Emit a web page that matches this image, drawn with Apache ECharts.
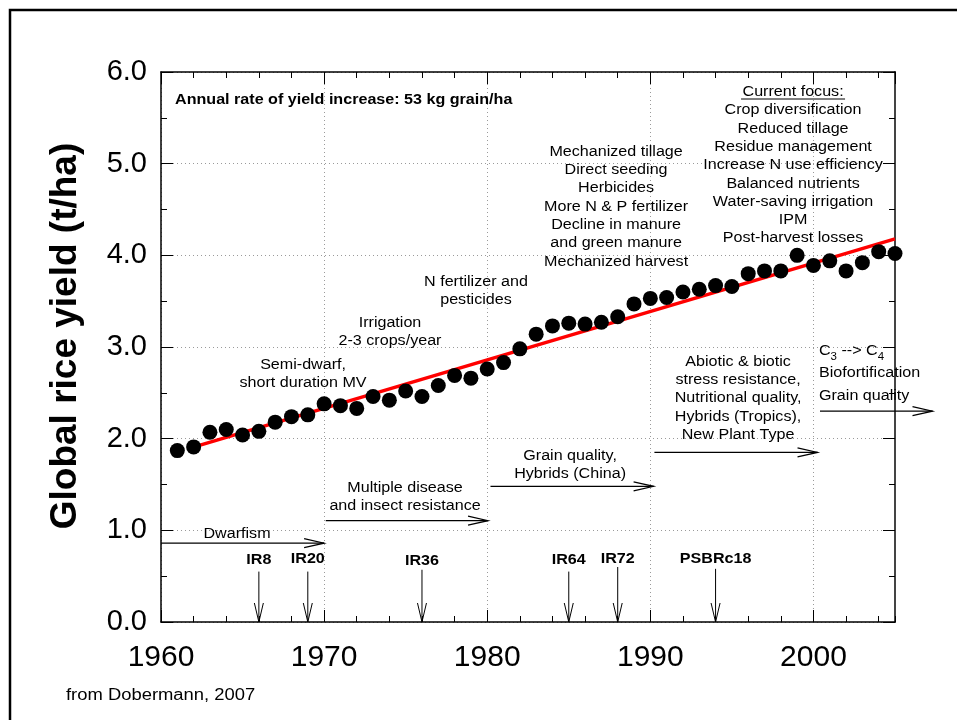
<!DOCTYPE html>
<html><head><meta charset="utf-8">
<script src="https://cdn.jsdelivr.net/npm/echarts@6/dist/echarts.min.js"></script>
<style>html,body{margin:0;padding:0;background:#fff}#c{width:957px;height:720px}</style>
</head><body><div id="c"></div>
<script>
// ---- data ----
const years = [1961,1962,1963,1964,1965,1966,1967,1968,1969,1970,1971,1972,1973,1974,1975,1976,1977,1978,1979,1980,1981,1982,1983,1984,1985,1986,1987,1988,1989,1990,1991,1992,1993,1994,1995,1996,1997,1998,1999,2000,2001,2002,2003,2004,2005];
const yields = [1.87,1.91,2.07,2.10,2.04,2.08,2.18,2.24,2.26,2.38,2.36,2.33,2.46,2.42,2.52,2.46,2.58,2.69,2.66,2.76,2.83,2.98,3.14,3.23,3.26,3.25,3.27,3.33,3.47,3.53,3.54,3.60,3.63,3.67,3.66,3.80,3.83,3.83,4.00,3.89,3.94,3.83,3.92,4.04,4.02];
const trendYears = [1962.4, 2005];
const trendValues = [1.93, 4.18];
const yTickLabels = ['0.0','1.0','2.0','3.0','4.0','5.0','6.0'];

const varietyNames = ['IR8','IR20','IR36','IR64','IR72','PSBRc18'];
const varietyYears = [1966,1969,1976,1985,1988,1994];
const varietyArrowTop = [0.55,0.55,0.57,0.55,0.60,0.58];
const varietyLabelY = [0.68,0.69,0.66,0.68,0.69,0.69];

const phaseStart = [1960, 1970.1, 1980.2, 1990.25, 2000.4];
const phaseEnd   = [1970, 1980.05, 1990.2, 2000.25, 2007.3];
const phaseLevel = [0.86, 1.105, 1.48, 1.85, 2.30];

const noteTexts = [
  'Current focus:\nCrop diversification\nReduced tillage\nResidue management\nIncrease N use efficiency\nBalanced nutrients\nWater-saving irrigation\nIPM\nPost-harvest losses',
  'Mechanized tillage\nDirect seeding\nHerbicides\nMore N & P fertilizer\nDecline in manure\nand green manure\nMechanized harvest',
  'N fertilizer and\npesticides',
  'Irrigation\n2-3 crops/year',
  'Semi-dwarf,\nshort duration MV',
  'Dwarfism',
  'Multiple disease\nand insect resistance',
  'Grain quality,\nHybrids (China)',
  'Abiotic & biotic\nstress resistance,\nNutritional quality,\nHybrids (Tropics),\nNew Plant Type'
];
const noteYears  = [1998.75, 1987.9, 1979.31, 1974.04, 1968.71, 1964.66, 1974.96, 1985.08, 1995.38];
const noteValues = [5.88, 5.227, 3.81, 3.36, 2.90, 1.06, 1.558, 1.91, 2.936];

const futureLines = [['C','3',' --> C','4'], ['Biofortification'], ['Grain quality']];
const futureYear = 2000.34, futureValue = 3.08;

const headline = 'Annual rate of yield increase: 53 kg grain/ha';
const headlineYear = 1960.86, headlineValue = 5.79;

const yTitle = 'Global rice yield (t/ha)';
const sourceNote = 'from Dobermann, 2007';

// ---- chart ----
const FONT = "'Liberation Sans', Arial, Helvetica, sans-serif";
const SX = 1.15;
const chart = echarts.init(document.getElementById('c'), null, {renderer: 'canvas'});

const gridRect = {left: 161, right: 62, top: 72, bottom: 98};
const blackTick = {color: '#000', width: 1};

function majorX(pos, labels) {
  return {
    type: 'value', gridIndex: 0, position: pos, min: 1960, max: 2005, interval: 10,
    axisLine: {show: true, onZero: false, lineStyle: {color: '#000', width: 1.5}},
    axisTick: {show: true, inside: true, length: 12, lineStyle: blackTick},
    minorTick: {show: false},
    axisLabel: labels ? {show: true, showMaxLabel: false, fontSize: 30, fontFamily: FONT, color: '#000', margin: 21,
      formatter: v => String(v)} : {show: false},
    splitLine: {show: labels, lineStyle: {type: [1, 3], color: '#9a9a9a', width: 1}}
  };
}
function minorX(pos) {
  return {
    type: 'value', gridIndex: 1, position: pos, min: 1960, max: 2005, interval: 2,
    axisLine: {show: false}, axisTick: {show: true, inside: true, length: 6, lineStyle: blackTick},
    axisLabel: {show: false}, splitLine: {show: false}
  };
}
function yAx(pos, labels, grid) {
  return {
    type: 'value', gridIndex: grid, position: pos, min: 0, max: 6, interval: 1,
    show: grid === 0,
    axisLine: {show: true, onZero: false, lineStyle: {color: pos === 'right' ? '#444' : '#000', width: pos === 'right' ? 2 : 1.5}},
    axisTick: {show: true, inside: true, length: 12, lineStyle: blackTick},
    minorTick: {show: true, splitNumber: 2, length: 6, lineStyle: blackTick},
    axisLabel: labels ? {show: true, fontSize: 29, fontFamily: FONT, color: '#000', margin: 14,
      formatter: v => yTickLabels[Math.round(v)]} : {show: false},
    splitLine: {show: labels, lineStyle: {type: [1, 3], color: '#9a9a9a', width: 1}}
  };
}

const option = {
  animation: false,
  backgroundColor: '#fff',
  grid: [Object.assign({}, gridRect), Object.assign({}, gridRect)],
  xAxis: [majorX('bottom', true), majorX('top', false), minorX('bottom'), minorX('top')],
  yAxis: [yAx('left', true, 0), yAx('right', false, 0), yAx('left', false, 1)],
  graphic: [
    {type: 'rect', shape: {x: 10, y: 10, width: 1000, height: 1000}, style: {fill: null, stroke: '#000', lineWidth: 2.5}, silent: true},
    {type: 'text', x: 66, y: 336, rotation: Math.PI / 2, style: {text: yTitle, font: 'bold 37px ' + FONT, fill: '#000', align: 'center', verticalAlign: 'middle'}},
    {type: 'text', x: 66, y: 696, scaleX: SX, style: {text: sourceNote, font: '16px ' + FONT, fill: '#000', align: 'left', verticalAlign: 'middle'}}
  ],
  series: [
    {
      type: 'line', xAxisIndex: 0, yAxisIndex: 0, data: trendYears.map((x, i) => [x, trendValues[i]]),
      symbol: 'none', lineStyle: {color: '#ff0000', width: 3.5}, z: 2, silent: true
    },
    {
      type: 'scatter', xAxisIndex: 0, yAxisIndex: 0, data: years.map((x, i) => [x, yields[i]]),
      symbol: 'circle', symbolSize: 15, itemStyle: {color: '#000', opacity: 1}, z: 3, silent: true
    },
    {
      // phase arrows
      type: 'custom', xAxisIndex: 0, yAxisIndex: 0, clip: false, silent: true, z: 4,
      data: phaseStart.map((s, i) => [s, phaseEnd[i], phaseLevel[i]]),
      encode: {x: [0, 1], y: 2},
      renderItem(params, api) {
        const a = api.coord([api.value(0), api.value(2)]);
        const b = api.coord([api.value(1), api.value(2)]);
        return {type: 'group', children: [
          {type: 'line', shape: {x1: a[0], y1: a[1], x2: b[0], y2: b[1]}, style: {stroke: '#000', lineWidth: 1.2}},
          {type: 'polyline', shape: {points: [[b[0] - 20, b[1] - 4.5], [b[0], b[1]], [b[0] - 20, b[1] + 4.5]]}, style: {stroke: '#000', fill: null, lineWidth: 1.2}}
        ]};
      }
    },
    {
      // variety release arrows
      type: 'custom', xAxisIndex: 0, yAxisIndex: 0, clip: false, silent: true, z: 4,
      data: varietyYears.map((x, i) => [x, varietyArrowTop[i], varietyLabelY[i]]),
      encode: {x: 0, y: [1, 2]},
      renderItem(params, api) {
        const t = api.coord([api.value(0), api.value(1)]);
        const b = api.coord([api.value(0), 0]);
        const l = api.coord([api.value(0), api.value(2)]);
        return {type: 'group', children: [
          {type: 'line', shape: {x1: t[0], y1: t[1], x2: b[0], y2: b[1]}, style: {stroke: '#000', lineWidth: 1}},
          {type: 'polyline', shape: {points: [[b[0] - 4.5, b[1] - 19], [b[0], b[1]], [b[0] + 4.5, b[1] - 19]]}, style: {stroke: '#000', fill: null, lineWidth: 1}},
          {type: 'text', x: l[0], y: l[1], scaleX: SX, style: {text: varietyNames[params.dataIndex], font: 'bold 14px ' + FONT, fill: '#000', align: 'center', verticalAlign: 'middle'}}
        ]};
      }
    },
    {
      // era notes
      type: 'custom', xAxisIndex: 0, yAxisIndex: 0, clip: false, silent: true, z: 5,
      data: noteYears.map((x, i) => [x, noteValues[i]]),
      encode: {x: 0, y: 1},
      renderItem(params, api) {
        const p = api.coord([api.value(0), api.value(1)]);
        const children = [
          {type: 'text', x: p[0], y: p[1], scaleX: SX, style: {text: noteTexts[params.dataIndex], font: '14px ' + FONT, fill: '#000', align: 'center', verticalAlign: 'top', lineHeight: 18.3}}
        ];
        if (params.dataIndex === 0) {
          children.push({type: 'line', shape: {x1: p[0] - 52, y1: p[1] + 16, x2: p[0] + 52, y2: p[1] + 16}, style: {stroke: '#000', lineWidth: 1}});
        }
        return {type: 'group', children};
      }
    },
    {
      // headline and future block
      type: 'custom', xAxisIndex: 0, yAxisIndex: 0, clip: false, silent: true, z: 5,
      data: [[headlineYear, headlineValue], [futureYear, futureValue]],
      encode: {x: 0, y: 1},
      renderItem(params, api) {
        const p = api.coord([api.value(0), api.value(1)]);
        if (params.dataIndex === 0) {
          return {type: 'text', x: p[0], y: p[1], scaleX: SX, style: {text: headline, font: 'bold 14px ' + FONT, fill: '#000', align: 'left', verticalAlign: 'top', lineHeight: 18}};
        }
        const txt = futureLines.map(parts => parts.map((s, k) => (parts.length > 1 && k % 2 === 1) ? '{s|' + s + '}' : '{n|' + s + '}').join('')).join('\n');
        return {type: 'text', x: p[0], y: p[1], scaleX: SX, style: {
          text: txt, fill: '#000', align: 'left', verticalAlign: 'top',
          rich: {
            n: {fontSize: 14, fontFamily: FONT, color: '#000', lineHeight: 22.4, verticalAlign: 'middle'},
            s: {fontSize: 10, fontFamily: FONT, color: '#000', lineHeight: 11, verticalAlign: 'bottom'}
          }
        }};
      }
    }
  ]
};
chart.setOption(option);
</script>
</body></html>
